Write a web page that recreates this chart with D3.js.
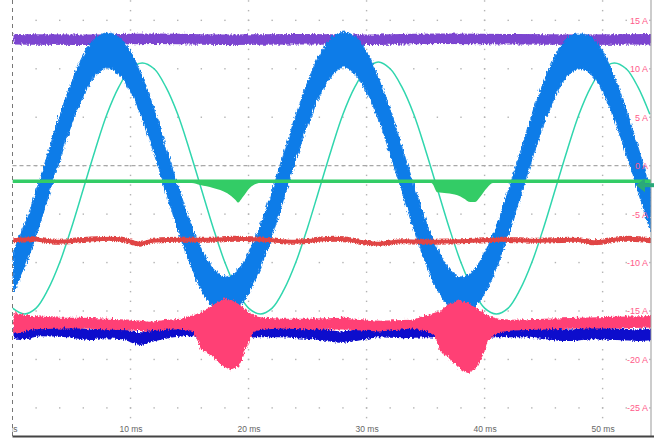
<!DOCTYPE html>
<html>
<head>
<meta charset="utf-8">
<script src="https://cdn.jsdelivr.net/npm/d3@7"></script>
<style>
  body { margin: 0; background: #fff; }
  svg { display: block; }
  .axis text { font-family: "Liberation Sans", Arial, sans-serif; }
</style>
</head>
<body>
<div id="scope"></div>
<script>
// tick labels
const xTicks = [0, 10, 20, 30, 40, 50];
const xTickLabels = ["0 ms", "10 ms", "20 ms", "30 ms", "40 ms", "50 ms"];
const yTicks = [15, 10, 5, 0, -5, -10, -15, -20, -25];
const yTickLabels = ["15 A", "10 A", "5 A", "0 A", "-5 A", "-10 A", "-15 A", "-20 A", "-25 A"];

// sample times (ms) for the two sine traces
const timeMs = [0,1,2,3,4,5,6,7,8,9,10,11,12,13,14,15,16,17,18,19,
  20,21,22,23,24,25,26,27,28,29,30,31,32,33,34,35,36,37,38,39,
  40,41,42,43,44,45,46,47,48,49,50,51,52,53,54];

// blue phase current: middle of the band and half its ripple width (A)
const blueMid = [-10.8,-8.0,-4.5,-0.6,3.3,6.8,9.6,11.4,12.0,11.4,9.6,6.8,3.3,-0.6,-4.5,-8.0,-10.8,-12.6,-13.2,-12.6,
  -10.8,-8.0,-4.5,-0.6,3.3,6.8,9.6,11.4,12.1,11.4,9.6,6.8,3.3,-0.6,-4.5,-8.0,-10.8,-12.6,-13.3,-12.6,
  -10.8,-8.0,-4.5,-0.6,3.3,6.8,9.6,11.4,11.9,11.4,9.6,6.8,3.3,-0.6,-4.5];
const blueRipple = [2.1,2.2,2.3,2.3,2.3,2.2,2.1,1.95,1.8,1.95,
  2.1,2.2,2.3,2.3,2.3,2.2,2.1,1.95,1.8,1.95,
  2.1,2.2,2.3,2.3,2.3,2.2,2.1,1.95,1.8,1.95,
  2.1,2.2,2.3,2.3,2.3,2.2,2.1,1.95,1.8,1.95,
  2.1,2.2,2.3,2.3,2.3,2.2,2.1,1.95,1.8,1.95,
  2.1,2.2,2.3,2.3,2.3];

// teal (filtered current)
const tealVals = [-14.7,-15.3,-14.7,-12.8,-10.0,-6.4,-2.4,1.6,5.3,8.1,10.0,10.6,10.0,8.1,5.3,1.6,-2.4,-6.4,-10.0,-12.8,
  -14.7,-15.3,-14.7,-12.8,-10.0,-6.4,-2.4,1.6,5.3,8.1,10.0,10.7,10.0,8.1,5.3,1.6,-2.4,-6.4,-10.0,-12.8,
  -14.7,-15.3,-14.7,-12.8,-10.0,-6.4,-2.4,1.6,5.3,8.1,10.0,10.6,10.0,8.1,5.3];

// purple (DC ~13 A)
const purpleTime = [0, 6, 12, 18, 24, 30, 36, 42, 48, 54.1];
const purpleVals = [13.15, 13.1, 13.2, 13.1, 13.15, 13.1, 13.2, 13.15, 13.1, 13.15];

// green: top level and lower edge with the two dips
const greenTop = -1.42;
const greenTime = [0, 15.2, 15.9, 17.0, 18.2, 18.9, 19.1, 19.5, 20.1, 21.0,
  35.5, 36.0, 36.8, 37.7, 38.2, 38.8, 39.2, 39.6, 40.2, 40.7, 41.9, 54.1];
const greenLow = [-1.78, -1.78, -2.0, -2.3, -2.85, -3.55, -3.8, -3.25, -2.3, -1.78,
  -1.78, -2.75, -2.85, -3.05, -3.35, -3.75, -3.75, -3.25, -2.3, -1.8, -1.78, -1.78];

// red
const redTime = [0, 1.6, 3.7, 6.2, 8.3, 9.7, 10.8, 11.8, 14.2, 16.7, 18.8, 21.3, 23.8, 27.3, 30.9,
  33, 34.8, 37.9, 41.5, 44.3, 47.5, 49.3, 51.8, 54.1];
const redVals = [-7.65, -7.55, -7.8, -7.6, -7.5, -7.7, -8.0, -7.7, -7.6, -7.6, -7.5, -7.6, -7.8, -7.5, -8.0,
  -7.75, -7.8, -7.75, -7.6, -7.7, -7.6, -7.85, -7.5, -7.65];

// pink band with bursts
const pinkTime = [0, 1.5, 4, 6, 8, 10, 11.5, 13, 14.2, 15.3, 15.9, 16.1, 16.5, 17.0, 17.3, 17.8, 18.4, 19.1, 19.3,
  19.9, 20.3, 20.7, 21.2, 22.7, 25, 28, 31, 33.7, 35.1, 35.6, 36.2, 36.8, 37.1, 37.7, 37.9, 38.5, 39.2, 39.4,
  39.8, 40.2, 41.1, 42.2, 45, 48, 51, 54.1];
const pinkTop = [-15.1, -15.4, -15.6, -15.6, -15.7, -15.8, -16.0, -15.8, -15.7, -15.3, -15.0, -14.8, -14.6, -14.2, -14.0, -13.6, -13.7, -14.2, -14.4,
  -15.0, -15.3, -15.5, -15.6, -15.7, -15.7, -15.6, -15.9, -15.8, -15.3, -15.1, -14.9, -14.2, -14.1, -13.7, -13.8, -14.1, -14.5, -14.7,
  -15.0, -15.4, -15.7, -15.8, -15.7, -15.6, -15.5, -15.4];
const pinkBot = [-17.3, -16.8, -16.7, -16.7, -16.8, -16.9, -17.0, -16.8, -16.8, -17.1, -18.9, -19.1, -19.3, -19.7, -20.1, -20.6, -21.0, -20.6, -20.2,
  -18.1, -17.1, -16.9, -16.8, -16.7, -16.8, -16.8, -17.0, -16.7, -17.0, -17.4, -19.1, -19.6, -20.1, -20.6, -21.0, -21.3, -20.8, -20.3,
  -19.4, -17.9, -17.1, -16.9, -16.8, -16.7, -16.7, -16.6];

// navy band
const navyTime = [0, 1, 2.3, 4.6, 6.6, 7.4, 9.1, 10.8, 11.7, 13.1, 15.0, 17, 19, 21, 22.5, 24, 26, 27.8, 29.5, 31,
  33, 35, 37, 39, 41, 43, 45, 47, 49, 51, 53, 54.1];
const navyTop = [-16.6, -16.7, -16.5, -16.4, -16.8, -16.5, -16.7, -17.1, -16.9, -16.6, -16.5, -16.6, -16.6, -16.5, -16.5, -16.6, -16.7, -17.0, -16.7, -16.5,
  -16.6, -16.5, -16.6, -16.6, -16.5, -16.5, -16.6, -16.8, -16.6, -16.7, -16.8, -16.7];
const navyBot = [-17.7, -17.8, -17.5, -17.6, -17.9, -17.7, -17.8, -18.4, -18.1, -17.7, -17.5, -17.7, -17.7, -17.6, -17.6, -17.7, -17.9, -18.2, -17.9, -17.6,
  -17.7, -17.6, -17.7, -17.7, -17.6, -17.6, -17.8, -18.0, -17.8, -17.9, -18.0, -17.9];

const W = 654, H = 439;
const plot = { left: 12.5, right: 651, top: 0, bottom: 436 };

const svg = d3.select("#scope").append("svg")
  .attr("width", W)
  .attr("height", H);

svg.append("rect").attr("width", W).attr("height", H).attr("fill", "#fff");

const x = d3.scaleLinear().domain([0, 54.1]).range([plot.left, plot.right]);
const y = d3.scaleLinear().domain([-27.9, 17.1]).range([plot.bottom, plot.top]);

const defs = svg.append("defs");
defs.append("clipPath").attr("id", "plotclip")
  .append("rect")
  .attr("x", plot.left).attr("y", plot.top)
  .attr("width", plot.right - plot.left).attr("height", plot.bottom - plot.top);
defs.append("clipPath").attr("id", "axisclip")
  .append("rect")
  .attr("x", plot.left).attr("y", 0)
  .attr("width", W - plot.left).attr("height", H);

// switching-noise look for the sampled bands
function roughFilter(id, freq, scale) {
  const f = defs.append("filter").attr("id", id)
    .attr("filterUnits", "userSpaceOnUse")
    .attr("x", 0).attr("y", 0).attr("width", W).attr("height", H);
  f.append("feTurbulence").attr("type", "turbulence")
    .attr("baseFrequency", freq).attr("numOctaves", 2).attr("seed", 4).attr("result", "n");
  f.append("feDisplacementMap").attr("in", "SourceGraphic").attr("in2", "n")
    .attr("scale", scale).attr("xChannelSelector", "R").attr("yChannelSelector", "G");
}
roughFilter("roughBand", "0.9 0.15", 4);
roughFilter("roughSoft", "0.6 0.2", 2);

// grid dots
const grid = svg.append("g").attr("fill", "#b3b3b3");
yTicks.forEach(v => {
  d3.range(2, 54.5, 2).forEach(t => {
    grid.append("rect").attr("x", x(t) - 0.7).attr("y", y(v) - 0.7).attr("width", 1.4).attr("height", 1.4);
  });
});
xTicks.slice(1).forEach(t => {
  d3.range(-26, 17.5, 1).forEach(v => {
    grid.append("rect").attr("x", x(t) - 0.7).attr("y", y(v) - 0.7).attr("width", 1.4).attr("height", 1.4);
  });
});

// zero line
svg.append("line")
  .attr("x1", plot.left).attr("x2", 633)
  .attr("y1", y(0)).attr("y2", y(0))
  .attr("stroke", "#a8a8a8").attr("stroke-width", 1.2)
  .attr("stroke-dasharray", "4,3");

const traces = svg.append("g").attr("clip-path", "url(#plotclip)");

// purple
traces.append("path")
  .datum(purpleTime.map((t, i) => ({ t, v: purpleVals[i] })))
  .attr("fill", "none")
  .attr("stroke", "#7b44d0")
  .attr("stroke-width", 10.5)
  .attr("filter", "url(#roughBand)")
  .attr("d", d3.line().x(d => x(d.t)).y(d => y(d.v)).curve(d3.curveMonotoneX));

// teal
traces.append("path")
  .datum(timeMs.map((t, i) => ({ t, v: tealVals[i] })))
  .attr("fill", "none")
  .attr("stroke", "#30d6ae")
  .attr("stroke-width", 1.5)
  .attr("d", d3.line().x(d => x(d.t)).y(d => y(d.v)).curve(d3.curveCatmullRom));

// blue band
traces.append("path")
  .datum(timeMs.map((t, i) => ({ t, hi: blueMid[i] + blueRipple[i], lo: blueMid[i] - blueRipple[i] })))
  .attr("fill", "#0b7be8")
  .attr("stroke", "#0b7be8")
  .attr("stroke-width", 0.8)
  .attr("filter", "url(#roughBand)")
  .attr("d", d3.area().x(d => x(d.t)).y0(d => y(d.lo)).y1(d => y(d.hi)).curve(d3.curveCatmullRom));

// green
traces.append("path")
  .datum(greenTime.map((t, i) => ({ t, lo: greenLow[i] })))
  .attr("fill", "#33cc66")
  .attr("d", d3.area().x(d => x(d.t)).y0(d => y(d.lo)).y1(y(greenTop)).curve(d3.curveMonotoneX));

// red
traces.append("path")
  .datum(redTime.map((t, i) => ({ t, v: redVals[i] })))
  .attr("fill", "none")
  .attr("stroke", "#e04545")
  .attr("stroke-width", 5)
  .attr("filter", "url(#roughSoft)")
  .attr("d", d3.line().x(d => x(d.t)).y(d => y(d.v)).curve(d3.curveMonotoneX));

// navy
traces.append("path")
  .datum(navyTime.map((t, i) => ({ t, hi: navyTop[i], lo: navyBot[i] })))
  .attr("fill", "#1010cc")
  .attr("filter", "url(#roughBand)")
  .attr("d", d3.area().x(d => x(d.t)).y0(d => y(d.lo)).y1(d => y(d.hi)).curve(d3.curveMonotoneX));

// pink
traces.append("path")
  .datum(pinkTime.map((t, i) => ({ t, hi: pinkTop[i], lo: pinkBot[i] })))
  .attr("fill", "#ff4075")
  .attr("filter", "url(#roughBand)")
  .attr("d", d3.area().x(d => x(d.t)).y0(d => y(d.lo)).y1(d => y(d.hi)).curve(d3.curveLinear));

// x axis labels
const xAxis = d3.axisBottom(x)
  .tickValues(xTicks)
  .tickFormat((d, i) => xTickLabels[i])
  .tickSize(0).tickPadding(0);
const gx = svg.append("g")
  .attr("class", "axis")
  .attr("clip-path", "url(#axisclip)")
  .attr("transform", "translate(0,426)")
  .call(xAxis);
gx.select(".domain").remove();
gx.selectAll("text").attr("fill", "#666").attr("font-size", 8.5);
gx.selectAll("text").filter(d => d === 0).attr("text-anchor", "end").attr("x", 4.5);

// y axis labels
const yAxis = d3.axisLeft(y)
  .tickValues(yTicks)
  .tickFormat((d, i) => yTickLabels[i])
  .tickSize(0).tickPadding(0);
const gy = svg.append("g")
  .attr("class", "axis")
  .attr("transform", "translate(648,0)")
  .call(yAxis);
gy.select(".domain").remove();
gy.selectAll("text").attr("fill", "#ff5a8a").attr("font-size", 9);

// frame
svg.append("line")
  .attr("x1", plot.left).attr("x2", plot.left)
  .attr("y1", 0).attr("y2", plot.bottom)
  .attr("stroke", "#777").attr("stroke-dasharray", "4,4");
svg.append("line")
  .attr("x1", plot.right).attr("x2", plot.right)
  .attr("y1", 0).attr("y2", plot.bottom)
  .attr("stroke", "#999");
svg.append("line")
  .attr("x1", plot.left).attr("x2", W)
  .attr("y1", plot.bottom + 0.5).attr("y2", plot.bottom + 0.5)
  .attr("stroke", "#444").attr("stroke-width", 1.8);

// channel marker arrow for the green trace
const ay = y(-1.6);
svg.append("polygon")
  .attr("points", [[636, ay + 4], [645, ay - 3], [645, ay + 11]].map(p => p.join(",")).join(" "))
  .attr("fill", "#2aa97a");
svg.append("rect")
  .attr("x", 645).attr("y", ay + 2).attr("width", 9).attr("height", 4)
  .attr("fill", "#2aa97a");
</script>
</body>
</html>
